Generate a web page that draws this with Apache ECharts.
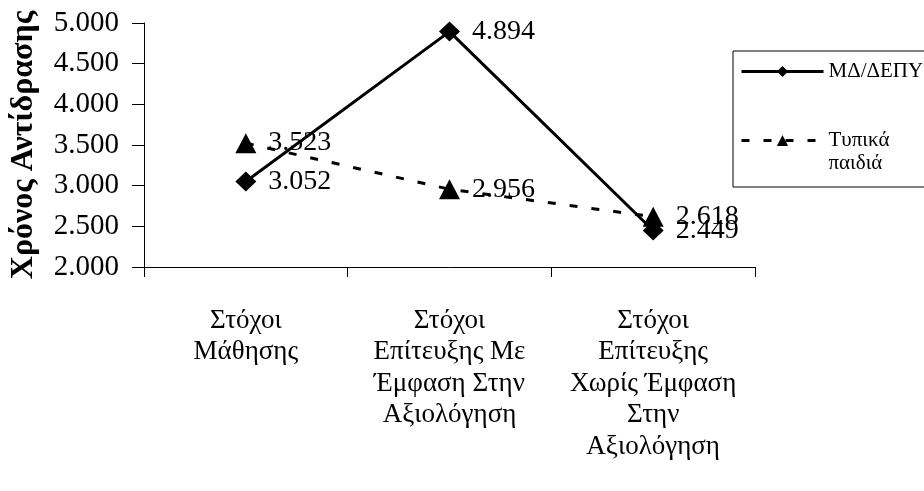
<!DOCTYPE html>
<html>
<head>
<meta charset="utf-8">
<style>
  html, body { margin: 0; padding: 0; background: #fff; }
  #chart { width: 924px; height: 491px; }
</style>
<script src="https://cdn.jsdelivr.net/npm/echarts@6/dist/echarts.min.js"></script>
</head>
<body>
<div id="chart"></div>
<script>
// Goal categories (x axis), multi-line labels
const categories = [
  'Στόχοι\nΜάθησης',
  'Στόχοι\nΕπίτευξης Με\nΈμφαση Στην\nΑξιολόγηση',
  'Στόχοι\nΕπίτευξης\nΧωρίς Έμφαση\nΣτην\nΑξιολόγηση'
];

// Reaction time per group
const adhdName = 'ΜΔ/ΔΕΠΥ';
const adhdValues = [3.052, 4.894, 2.449];
const typicalName = 'Τυπικά\nπαιδιά';
const typicalValues = [3.523, 2.956, 2.618];

// Y axis range and step
const yMin = 2.0;
const yMax = 5.0;
const yStep = 0.5;
const yTitle = 'Χρόνος Αντίδρασης';

const serif = '"Liberation Serif", "DejaVu Serif", serif';
const fmt = v => Number(v).toFixed(3);

const chart = echarts.init(document.getElementById('chart'), null, { renderer: 'canvas' });

chart.setOption({
  animation: false,
  backgroundColor: '#ffffff',
  textStyle: { fontFamily: serif, color: '#000' },
  grid: { left: 142, right: 169, top: 23, bottom: 224, containLabel: false },
  legend: {
    orient: 'vertical',
    left: 733,
    top: 51,
    padding: [9, 40, 12, 7],
    borderColor: '#000',
    borderWidth: 1,
    itemWidth: 82,
    itemHeight: 14,
    itemGap: 23,
    selectedMode: false,
    lineStyle: { width: 3 },
    textStyle: { fontFamily: serif, fontSize: 21, color: '#000', lineHeight: 23 },
    // leading blank line keeps the first text line level with the icon
    formatter: name => (name === typicalName ? ' \n' + name : name),
    data: [adhdName, typicalName]
  },
  xAxis: {
    type: 'category',
    data: categories,
    boundaryGap: true,
    axisLine: { lineStyle: { color: '#000', width: 1 } },
    axisTick: { show: true, inside: false, length: 10, alignWithLabel: false, lineStyle: { color: '#000' } },
    axisLabel: {
      interval: 0,
      margin: 38,
      fontFamily: serif,
      fontSize: 27,
      lineHeight: 31.5,
      color: '#000',
      align: 'center'
    },
    splitLine: { show: false }
  },
  yAxis: {
    type: 'value',
    min: yMin,
    max: yMax,
    interval: yStep,
    name: yTitle,
    nameLocation: 'middle',
    nameGap: 104,
    nameTextStyle: { fontFamily: serif, fontSize: 32, fontWeight: 'bold', color: '#000' },
    axisLine: { show: true, lineStyle: { color: '#000', width: 1 } },
    axisTick: { show: true, inside: false, length: 12, lineStyle: { color: '#000' } },
    axisLabel: {
      margin: 25,
      fontFamily: serif,
      fontSize: 29,
      color: '#000',
      formatter: fmt
    },
    splitLine: { show: false }
  },
  series: [
    {
      name: adhdName,
      type: 'line',
      data: adhdValues,
      symbol: 'diamond',
      symbolSize: [21, 20],
      lineStyle: { color: '#000', width: 3, type: 'solid' },
      itemStyle: { color: '#000' },
      label: {
        show: true,
        position: 'right',
        distance: 12,
        fontFamily: serif,
        fontSize: 28,
        color: '#000',
        formatter: p => fmt(p.value)
      },
      z: 3
    },
    {
      name: typicalName,
      type: 'line',
      data: typicalValues,
      symbol: 'triangle',
      symbolSize: [21, 20],
      lineStyle: { color: '#000', width: 3, type: [8, 14] },
      itemStyle: { color: '#000' },
      label: {
        show: true,
        position: 'right',
        distance: 12,
        fontFamily: serif,
        fontSize: 28,
        color: '#000',
        formatter: p => fmt(p.value)
      },
      z: 2
    }
  ]
});
</script>
</body>
</html>
